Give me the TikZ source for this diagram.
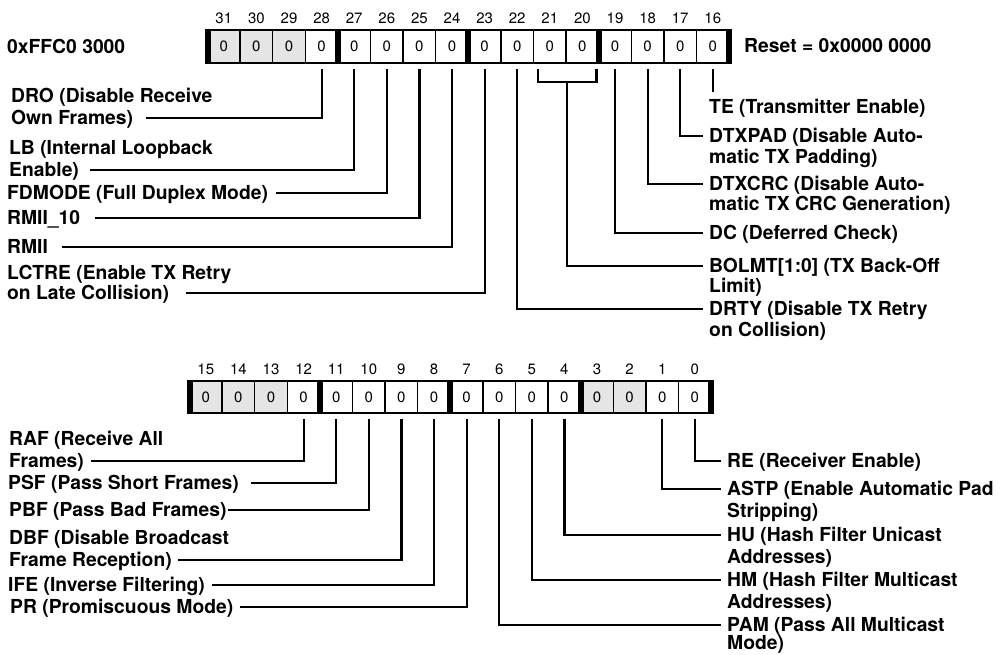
\documentclass[tikz,border=0pt]{standalone}
\usepackage{fontspec}
\setmainfont{TeX Gyre Heros}
\usetikzlibrary{calc}
\definecolor{cellgrey}{RGB}{229,229,229}
\newcommand{\lblfont}{\fontsize{19.3}{22}\selectfont\bfseries}
\newcommand{\numfont}{\fontsize{15}{17}\selectfont}
\tikzset{
    cell/.style={draw, line width=1.5pt, minimum width=32.6pt, minimum height=33pt, inner sep=0pt, font=\numfont},
    bitnum/.style={inner sep=0pt, font=\numfont},
    lbl/.style={anchor=west, inner sep=0pt, font=\lblfont, text height=13.9pt, text depth=0pt},
    lead/.style={line width=2.2pt},
    sepbar/.style={line width=6pt}
}

\begin{document}
\begin{tikzpicture}[x=1pt, y=-1pt]
    \useasboundingbox (0,0) rectangle (1003,654);

    % upper register, bits 31..16
    \foreach \i in {31,...,16} {
        \pgfmathsetmacro{\cx}{207.5+(31-\i+0.5)*32.6}
        \ifnum\i>28 \def\fillc{cellgrey}\else\def\fillc{white}\fi
        \node[cell, fill=\fillc] (t\i) at (\cx,46.5) {0};
        \node[bitnum] (tn\i) at (\cx,18) {\i};
    }
    \draw[line width=2.5pt] (207.5,30) rectangle (729.1,63);
    \foreach \j in {0,...,4}
        \draw[sepbar] (207.5+130.4*\j,29) -- (207.5+130.4*\j,64);

    \node[lbl] (addr) at (7,47) {0xFFC0 3000};
    \node[lbl] (reset) at (744,46) {Reset = 0x0000 0000};

    \node[lbl] (dro1) at (11,96) {DRO (Disable Receive};
    \node[lbl] (dro) at (11,118) {Own Frames)};
    \node[lbl] (lb1) at (9,148) {LB (Internal Loopback};
    \node[lbl] (lb) at (9,170) {Enable)};
    \node[lbl] (fdmode) at (7,193) {FDMODE (Full Duplex Mode)};
    \node[lbl] (rmiiten) at (7,218) {RMII\_10};
    \node[lbl] (rmii) at (7,247) {RMII};
    \node[lbl] (lctre1) at (7,273) {LCTRE (Enable TX Retry};
    \node[lbl] (lctre) at (7,293) {on Late Collision)};

    \node[lbl] (te) at (709,107) {TE (Transmitter Enable)};
    \node[lbl] (dtxpad) at (709,136) {DTXPAD (Disable Auto-};
    \node[lbl] (dtxpad2) at (709,157) {matic TX Padding)};
    \node[lbl] (dtxcrc) at (709,184) {DTXCRC (Disable Auto-};
    \node[lbl] (dtxcrc2) at (709,204) {matic TX CRC Generation)};
    \node[lbl] (dc) at (709,233) {DC (Deferred Check)};
    \node[lbl] (bolmt) at (709,266) {BOLMT[1:0] (TX Back-Off};
    \node[lbl] (bolmt2) at (709,286) {Limit)};
    \node[lbl] (drty) at (709,309) {DRTY (Disable TX Retry};
    \node[lbl] (drty2) at (709,330) {on Collision)};

    \draw[lead] ([yshift=-5pt]t28.south) |- ([xshift=13pt]dro.east);
    \draw[lead] ([yshift=-5pt]t27.south) |- ([xshift=11pt]lb.east);
    \draw[lead] ([yshift=-5pt]t26.south) |- ([xshift=8pt]fdmode.east);
    \draw[lead] ([yshift=-5pt]t25.south) |- ([xshift=15pt]rmiiten.east);
    \draw[lead] ([yshift=-5pt]t24.south) |- ([xshift=14pt]rmii.east);
    \draw[lead] ([yshift=-5pt]t23.south) |- ([xshift=17pt]lctre.east);
    \draw[lead] ([yshift=-5pt]t22.south) |- ([xshift=-6pt]drty.west);
    \coordinate (brkl) at ([xshift=5pt,yshift=-18pt]t21.south west);
    \coordinate (brkr) at ([xshift=-3pt,yshift=-18pt]t20.south east);
    \coordinate (brkm) at ($(brkl)!0.5!(brkr)$);
    \draw[lead] ([xshift=5pt,yshift=-5pt]t21.south west) -- (brkl) -- (brkr)
        -- ([xshift=-3pt,yshift=-5pt]t20.south east);
    \draw[lead] (brkm) |- ([xshift=-6pt]bolmt.west);
    \draw[lead] ([yshift=-5pt]t19.south) |- ([xshift=-6pt]dc.west);
    \draw[lead] ([yshift=-5pt]t18.south) |- ([xshift=-6pt]dtxcrc.west);
    \draw[lead] ([yshift=-5pt]t17.south) |- ([xshift=-6pt]dtxpad.west);
    \draw[lead] ([yshift=-5pt]t16.south) -- ([yshift=8pt]te.north -| t16.south);

    % lower register, bits 15..0
    \foreach \i in {15,...,0} {
        \pgfmathsetmacro{\cx}{189.5+(15-\i+0.5)*32.6}
        \pgfmathtruncatemacro{\g}{(\i>12)||(\i==3)||(\i==2)}
        \ifnum\g=1 \def\fillc{cellgrey}\else\def\fillc{white}\fi
        \node[cell, fill=\fillc] (b\i) at (\cx,397) {0};
        \node[bitnum] (bn\i) at (\cx,369) {\i};
    }
    \draw[line width=2.5pt] (189.5,381) rectangle (711.1,413);
    \foreach \j in {0,...,4}
        \draw[sepbar] (189.5+130.4*\j,380) -- (189.5+130.4*\j,414);

    \node[lbl] (raf1) at (9,439) {RAF (Receive All};
    \node[lbl] (raf) at (9,461) {Frames)};
    \node[lbl] (psf) at (8,483) {PSF (Pass Short Frames)};
    \node[lbl] (pbf) at (9,510) {PBF (Pass Bad Frames)};
    \node[lbl] (dbf1) at (9,538) {DBF (Disable Broadcast};
    \node[lbl] (dbf) at (9,560) {Frame Reception)};
    \node[lbl] (ife) at (8,585) {IFE (Inverse Filtering)};
    \node[lbl] (pr) at (10,607) {PR (Promiscuous Mode)};

    \node[lbl] (re) at (727,461) {RE (Receiver Enable)};
    \node[lbl] (astp) at (727,489) {ASTP (Enable Automatic Pad};
    \node[lbl] (astp2) at (727,511) {Stripping)};
    \node[lbl] (hu) at (727,535) {HU (Hash Filter Unicast};
    \node[lbl] (hu2) at (727,557) {Addresses)};
    \node[lbl] (hm) at (727,580) {HM (Hash Filter Multicast};
    \node[lbl] (hm2) at (727,602) {Addresses)};
    \node[lbl] (pam) at (727,625) {PAM (Pass All Multicast};
    \node[lbl] (pam2) at (727,643) {Mode)};

    \draw[lead] ([yshift=-5pt]b12.south) |- ([xshift=7pt]raf.east);
    \draw[lead] ([yshift=-5pt]b11.south) |- ([xshift=12pt]psf.east);
    \draw[lead] ([yshift=-5pt]b10.south) |- ([xshift=1pt]pbf.east);
    \draw[lead] ([yshift=-5pt]b9.south) |- ([xshift=6pt]dbf.east);
    \draw[lead] ([yshift=-5pt]b8.south) |- ([xshift=7pt]ife.east);
    \draw[lead] ([yshift=-5pt]b7.south) |- ([xshift=7pt]pr.east);
    \draw[lead] ([yshift=-5pt]b6.south) |- ([xshift=-6pt]pam.west);
    \draw[lead] ([yshift=-5pt]b5.south) |- ([xshift=-6pt]hm.west);
    \draw[lead] ([yshift=-5pt]b4.south) |- ([xshift=-6pt]hu.west);
    \draw[lead] ([yshift=-5pt]b1.south) |- ([xshift=-6pt]astp.west);
    \draw[lead] ([yshift=-5pt]b0.south) |- ([xshift=-6pt]re.west);
\end{tikzpicture}
\end{document}
